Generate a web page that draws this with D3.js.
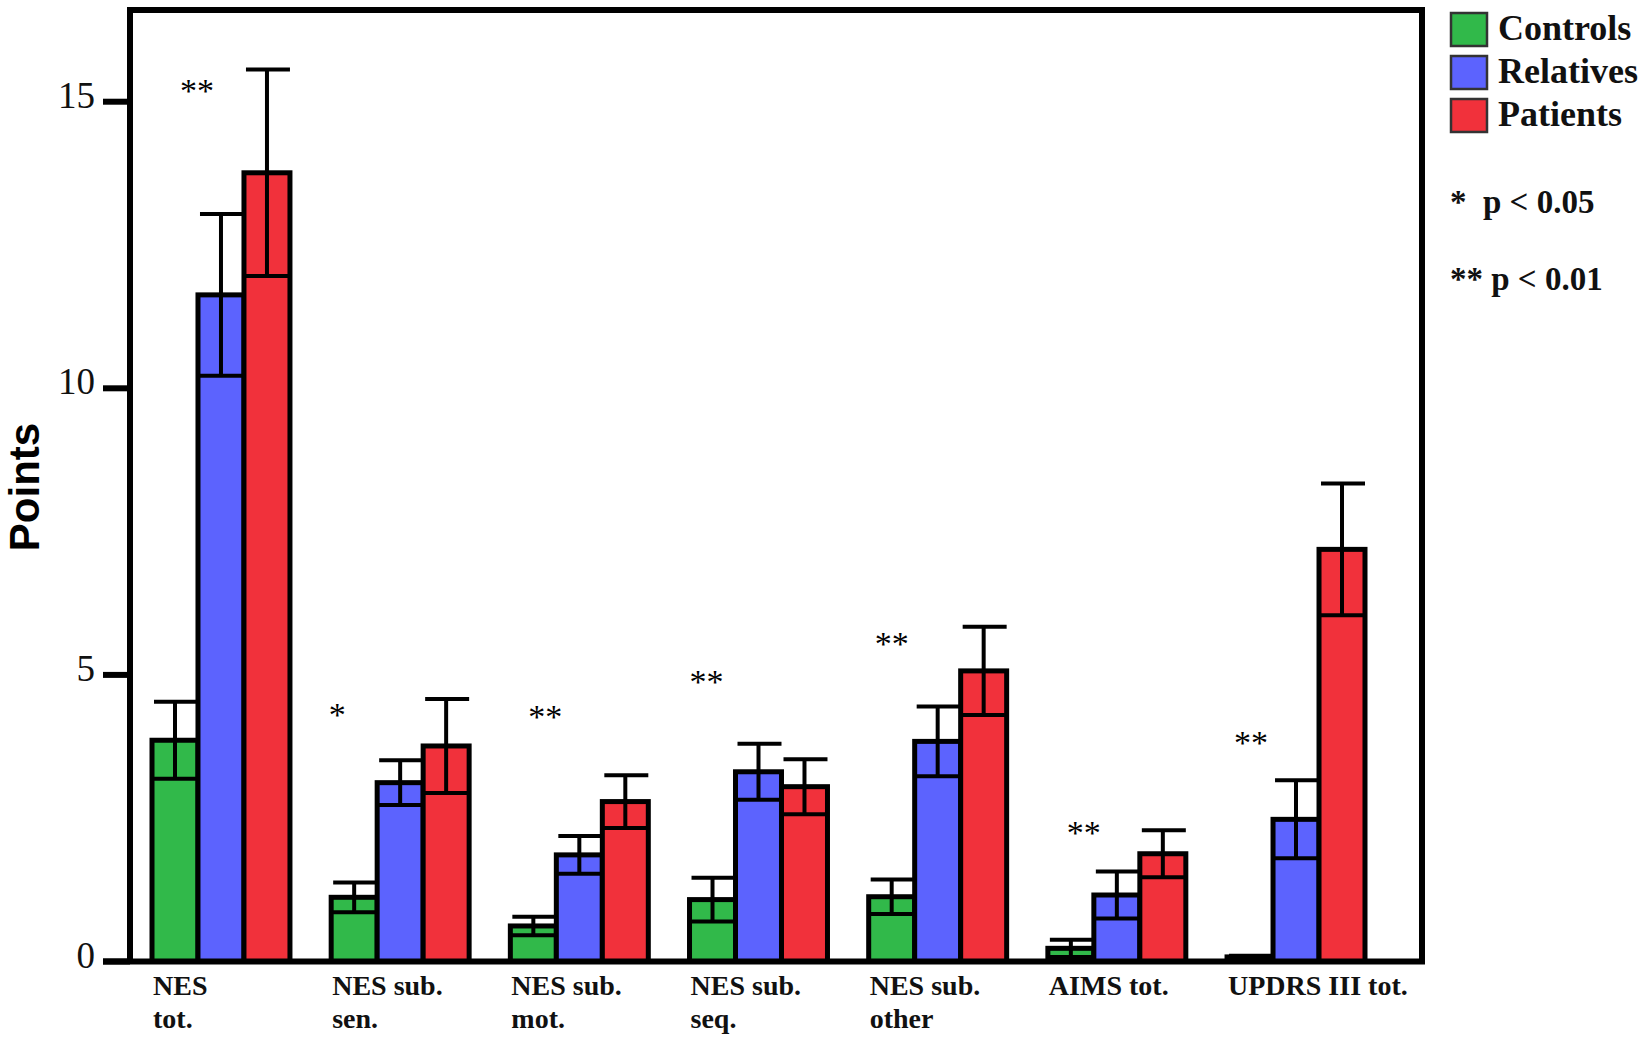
<!DOCTYPE html>
<html>
<head>
<meta charset="utf-8">
<script src="https://cdn.jsdelivr.net/npm/d3@7"></script>
<style>
  html, body { margin: 0; padding: 0; background: #fff; }
  svg { display: block; }
</style>
</head>
<body>
<script>
// General constants
const WIDTH = 1652;
const HEIGHT = 1042;
const SERIF = "'Liberation Serif', 'Times New Roman', serif";
const SANS = "'Liberation Sans', Arial, sans-serif";

// Categories (x labels, one entry per line)
const categories = ["NES tot.", "NES sub. sen.", "NES sub. mot.", "NES sub. seq.",
                    "NES sub. other", "AIMS tot.", "UPDRS III tot."];
const categoryLines = [["NES", "tot."], ["NES sub.", "sen."], ["NES sub.", "mot."],
                       ["NES sub.", "seq."], ["NES sub.", "other"], ["AIMS tot."],
                       ["UPDRS III tot."]];

// Series: means and standard errors
const seriesNames = ["Controls", "Relatives", "Patients"];
const controlsMean  = [3.86, 1.12, 0.62, 1.08, 1.13, 0.23, 0.08];
const controlsErr   = [0.67, 0.26, 0.16, 0.38, 0.30, 0.15, 0.02];
const relativesMean = [11.63, 3.12, 1.86, 3.31, 3.84, 1.16, 2.48];
const relativesErr  = [1.41, 0.39, 0.33, 0.49, 0.61, 0.41, 0.68];
const patientsMean  = [13.76, 3.76, 2.79, 3.05, 5.07, 1.88, 7.19];
const patientsErr   = [1.80, 0.82, 0.46, 0.48, 0.77, 0.41, 1.15];

// Significance marks and the value height they sit at
const sigMarks = ["**", "*", "**", "**", "**", "**", "**"];
const sigLevel = [15.28, 4.39, 4.36, 4.97, 5.63, 2.33, 3.90];

// Y ticks and legend notes
const yTicks = [0, 5, 10, 15];
const notes = ["*  p < 0.05", "** p < 0.01"];

// Layout (not data)
const colors = ["#31b94a", "#5c63fe", "#f1313b"];
const starDx = [45, 6, 35, 17, 23, 36, 24];
const plot = { left: 130, right: 1422, top: 10, bottom: 961.5 };

/**
 * Build per-series rows from the named arrays
 */
const means = [controlsMean, relativesMean, patientsMean];
const errs = [controlsErr, relativesErr, patientsErr];
var rows = [];
categories.forEach(function(c, i) {
    seriesNames.forEach(function(s, k) {
        rows.push({ cat: c, series: s, k: k, mean: means[k][i], err: errs[k][i] });
    });
});

/**
 * Scales
 */
var x = d3.scaleBand()
          .domain(categories)
          .range([152, 1365])
          .paddingInner(0.23)
          .paddingOuter(0);

var xInner = d3.scaleBand()
               .domain(seriesNames)
               .range([0, x.bandwidth()]);

var y = d3.scaleLinear()
          .domain([0, 16.6])
          .range([plot.bottom, plot.top]);

const svg = d3.select("body")
              .append("svg")
              .attr("width", WIDTH)
              .attr("height", HEIGHT);

/** Bars */
svg.append("g")
   .selectAll("rect")
   .data(rows)
   .enter()
   .append("rect")
   .attr("x", d => x(d.cat) + xInner(d.series))
   .attr("y", d => y(d.mean))
   .attr("width", xInner.bandwidth())
   .attr("height", d => y(0) - y(d.mean))
   .attr("fill", d => colors[d.k])
   .attr("stroke", "#000")
   .attr("stroke-width", 5);

/** Error bars: stem, top cap and a line across the bar at mean - err */
var eb = svg.append("g")
            .attr("stroke", "#000")
            .attr("stroke-width", 4)
            .selectAll("g")
            .data(rows)
            .enter()
            .append("g");

eb.append("line")
  .attr("x1", d => x(d.cat) + xInner(d.series) + xInner.bandwidth() / 2)
  .attr("x2", d => x(d.cat) + xInner(d.series) + xInner.bandwidth() / 2)
  .attr("y1", d => y(d.mean + d.err))
  .attr("y2", d => y(Math.max(0, d.mean - d.err)));

eb.append("line")
  .attr("x1", d => x(d.cat) + xInner(d.series) + 2)
  .attr("x2", d => x(d.cat) + xInner(d.series) + xInner.bandwidth())
  .attr("y1", d => y(d.mean + d.err))
  .attr("y2", d => y(d.mean + d.err));

eb.append("line")
  .attr("x1", d => x(d.cat) + xInner(d.series))
  .attr("x2", d => x(d.cat) + xInner(d.series) + xInner.bandwidth())
  .attr("y1", d => y(Math.max(0, d.mean - d.err)))
  .attr("y2", d => y(Math.max(0, d.mean - d.err)));

/** Frame: left axis, top, right and the zero line */
svg.append("path")
   .attr("d", `M${plot.left},${y(0)} V${plot.top} H${plot.right} V${y(0)} H103`)
   .attr("fill", "none")
   .attr("stroke", "#000")
   .attr("stroke-width", 6);

/** Y ticks and labels */
svg.append("g")
   .selectAll("line")
   .data(yTicks)
   .enter()
   .append("line")
   .attr("x1", 103)
   .attr("x2", plot.left)
   .attr("y1", d => y(d))
   .attr("y2", d => y(d))
   .attr("stroke", "#000")
   .attr("stroke-width", 6);

svg.append("g")
   .selectAll("text")
   .data(yTicks)
   .enter()
   .append("text")
   .attr("x", 95)
   .attr("y", d => y(d) + 6)
   .attr("text-anchor", "end")
   .attr("font-family", SERIF)
   .attr("font-size", 37)
   .attr("fill", "#111")
   .text(d => d);

/** Y axis title */
svg.append("text")
   .attr("transform", "translate(39,487) rotate(-90)")
   .attr("text-anchor", "middle")
   .attr("font-family", SANS)
   .attr("font-weight", "bold")
   .attr("font-size", 42)
   .attr("fill", "#000")
   .text("Points");

/** X labels, left aligned at the group start */
var xl = svg.append("g")
            .selectAll("text")
            .data(categories)
            .enter()
            .append("text")
            .attr("font-family", SERIF)
            .attr("font-weight", "bold")
            .attr("font-size", 28)
            .attr("fill", "#111");

xl.selectAll("tspan")
  .data((d, i) => categoryLines[i].map(t => ({ t: t, cat: d })))
  .enter()
  .append("tspan")
  .attr("x", d => x(d.cat) + 1)
  .attr("y", (d, j) => 995 + j * 33)
  .text(d => d.t);

/** Significance stars */
svg.append("g")
   .selectAll("text")
   .data(categories)
   .enter()
   .append("text")
   .attr("x", (d, i) => x(d) + starDx[i])
   .attr("y", (d, i) => y(sigLevel[i]) + 16)
   .attr("text-anchor", "middle")
   .attr("font-family", SERIF)
   .attr("font-size", 34)
   .attr("fill", "#000")
   .text((d, i) => sigMarks[i]);

/** Legend */
var lg = svg.append("g")
            .selectAll("g")
            .data(seriesNames)
            .enter()
            .append("g")
            .attr("transform", (d, i) => `translate(1451,${13 + i * 43})`);

lg.append("rect")
  .attr("width", 36)
  .attr("height", 33)
  .attr("fill", (d, i) => colors[i])
  .attr("stroke", "#333")
  .attr("stroke-width", 2.5);

lg.append("text")
  .attr("x", 47)
  .attr("y", 27)
  .attr("font-family", SERIF)
  .attr("font-weight", "bold")
  .attr("font-size", 36)
  .attr("fill", "#111")
  .text(d => d);

svg.append("g")
   .selectAll("text")
   .data(notes)
   .enter()
   .append("text")
   .attr("x", 1450)
   .attr("y", (d, i) => 213 + i * 77)
   .attr("font-family", SERIF)
   .attr("font-weight", "bold")
   .attr("font-size", 33)
   .attr("fill", "#111")
   .attr("xml:space", "preserve")
   .style("white-space", "pre")
   .text(d => d);
</script>
</body>
</html>
